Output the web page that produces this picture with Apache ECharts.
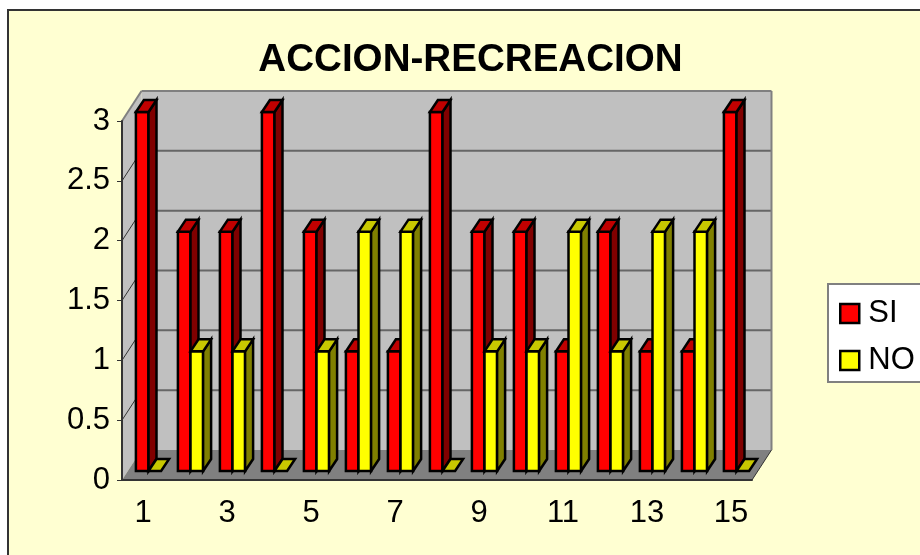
<!DOCTYPE html>
<html>
<head>
<meta charset="utf-8">
<style>
  html, body { margin: 0; padding: 0; background: #fff; overflow: hidden; }
  #chart { width: 920px; height: 555px; }
</style>
<script src="https://cdn.jsdelivr.net/npm/echarts@6/dist/echarts.min.js"></script>
</head>
<body>
<div id="chart"></div>
<script>
const categories = ['1', '2', '3', '4', '5', '6', '7', '8', '9', '10', '11', '12', '13', '14', '15']
const siValues = [3, 2, 2, 3, 2, 1, 1, 3, 2, 2, 1, 2, 1, 1, 3]
const noValues = [0, 1, 1, 0, 1, 2, 2, 0, 1, 1, 2, 1, 2, 2, 0]
const wallLines = [0.5, 1, 1.5, 2, 2.5, 3]

// fake 3d depth, excel style
const WALL_DX = 19.5
const WALL_DY = -30
const BAR_SHIFT_X = 5.5
const BAR_SHIFT_Y = -9
const BAR_DX = 8
const BAR_DY = -12
const BAR_LINE = 2.5
const FONT = '"Liberation Sans", Arial, sans-serif'

function poly(points, fill, stroke, lineWidth) {
  return {
    type: 'polygon',
    shape: { points },
    style: { fill, stroke: stroke || 'none', lineWidth: lineWidth || 0 }
  }
}

function seg(x1, y1, x2, y2, stroke, lineWidth) {
  return {
    type: 'line',
    shape: { x1, y1, x2, y2 },
    style: { stroke, lineWidth }
  }
}

function renderWalls(params, api) {
  const c = params.coordSys
  const l = c.x
  const r = c.x + c.width
  const t = c.y
  const b = c.y + c.height
  const children = [
    poly([[l, t], [l + WALL_DX, t + WALL_DY], [l + WALL_DX, b + WALL_DY], [l, b]], '#c0c0c0'),
    poly([[l + WALL_DX, t + WALL_DY], [r + WALL_DX, t + WALL_DY], [r + WALL_DX, b + WALL_DY], [l + WALL_DX, b + WALL_DY]], '#c0c0c0'),
    poly([[l, b], [l + WALL_DX, b + WALL_DY], [r + WALL_DX, b + WALL_DY], [r, b]], '#808080')
  ]
  wallLines.forEach(v => {
    const y = api.coord([0, v])[1]
    if (v < 3) {
      children.push(seg(l, y, l + WALL_DX, y + WALL_DY, '#333333', 1))
      children.push(seg(l + WALL_DX, y + WALL_DY, r + WALL_DX, y + WALL_DY, '#666666', 2))
    }
  })
  // outer edges of the box
  children.push(seg(l, t, l + WALL_DX, t + WALL_DY, '#808080', 2))
  children.push(seg(l + WALL_DX, t + WALL_DY, r + WALL_DX, t + WALL_DY, '#808080', 2))
  children.push(seg(r + WALL_DX, t + WALL_DY, r + WALL_DX, b + WALL_DY, '#808080', 2))
  children.push(seg(r, b, r + WALL_DX, b + WALL_DY, '#333333', 1))
  return { type: 'group', children }
}

function renderBar(colors, slot) {
  return function (params, api) {
    const i = api.value(0)
    const band = api.size([1, 0])[0]
    const w = band * 0.3
    const top = api.coord([i, api.value(1)])
    const zero = api.coord([i, 0])
    const x0 = top[0] - band * 0.3 + BAR_SHIFT_X + slot * w
    const x1 = x0 + w
    const y0 = top[1] + BAR_SHIFT_Y
    const y1 = zero[1] + BAR_SHIFT_Y
    const children = []
    if (y1 > y0) {
      children.push(poly([[x0, y0], [x1, y0], [x1, y1], [x0, y1]], colors[0], '#000', BAR_LINE))
      children.push(poly([[x1, y0], [x1 + BAR_DX, y0 + BAR_DY], [x1 + BAR_DX, y1 + BAR_DY], [x1, y1]], colors[2], '#000', BAR_LINE))
    }
    children.push(poly([[x0, y0], [x0 + BAR_DX, y0 + BAR_DY], [x1 + BAR_DX, y0 + BAR_DY], [x1, y0]], colors[1], '#000', BAR_LINE))
    return { type: 'group', children }
  }
}

const chart = echarts.init(document.getElementById('chart'))
chart.setOption({
  animation: false,
  backgroundColor: '#ffffff',
  graphic: [{
    type: 'rect',
    z: -10,
    silent: true,
    shape: { x: 8, y: 10, width: 1000, height: 700 },
    style: { fill: '#ffffd2', stroke: '#333333', lineWidth: 2 }
  }],
  title: {
    text: 'ACCION-RECREACION',
    left: 465.5,
    top: 36,
    textAlign: 'center',
    textStyle: { fontFamily: FONT, fontSize: 38.6, fontWeight: 'bold', color: '#000' }
  },
  legend: {
    orient: 'vertical',
    left: 828,
    top: 284,
    width: 120,
    padding: [14, 60, 6, 11],
    itemGap: 16,
    itemWidth: 19,
    itemHeight: 19,
    backgroundColor: '#ffffff',
    borderColor: '#808080',
    borderWidth: 2,
    textStyle: { fontFamily: FONT, fontSize: 31, lineHeight: 28, padding: [0, 0, 0, 4], color: '#000' },
    data: [
      { name: 'SI', icon: 'rect', itemStyle: { color: '#ff0000', borderColor: '#000', borderWidth: 2.5 } },
      { name: 'NO', icon: 'rect', itemStyle: { color: '#ffff00', borderColor: '#000', borderWidth: 2.5 } }
    ]
  },
  grid: { left: 122, top: 121, width: 630, height: 359 },
  xAxis: {
    type: 'category',
    data: categories,
    z: 5,
    axisLine: { lineStyle: { color: '#333333', width: 2 } },
    axisTick: { length: 6, interval: 0, lineStyle: { color: '#333333', width: 1 } },
    axisLabel: { interval: 1, margin: 18, fontFamily: FONT, fontSize: 31, color: '#000' },
    splitLine: { show: false }
  },
  yAxis: {
    type: 'value',
    min: 0,
    max: 3,
    interval: 0.5,
    z: 5,
    axisLine: { show: true, lineStyle: { color: '#333333', width: 2 } },
    axisTick: { show: true, length: 5, lineStyle: { color: '#333333', width: 1 } },
    axisLabel: { margin: 12, padding: [6, 0, 0, 0], fontFamily: FONT, fontSize: 31, color: '#000' },
    splitLine: { show: false }
  },
  series: [
    {
      name: 'walls',
      type: 'custom',
      silent: true,
      clip: false,
      z: 1,
      data: [[0, 0]],
      renderItem: renderWalls
    },
    {
      name: 'SI',
      type: 'custom',
      clip: false,
      z: 2,
      itemStyle: { color: '#ff0000' },
      data: siValues.map((v, i) => [i, v]),
      renderItem: renderBar(['#ff0000', '#c00000', '#800000'], 0)
    },
    {
      name: 'NO',
      type: 'custom',
      clip: false,
      z: 3,
      itemStyle: { color: '#ffff00' },
      data: noValues.map((v, i) => [i, v]),
      renderItem: renderBar(['#ffff00', '#c8c800', '#808000'], 1)
    }
  ]
})
</script>
</body>
</html>
